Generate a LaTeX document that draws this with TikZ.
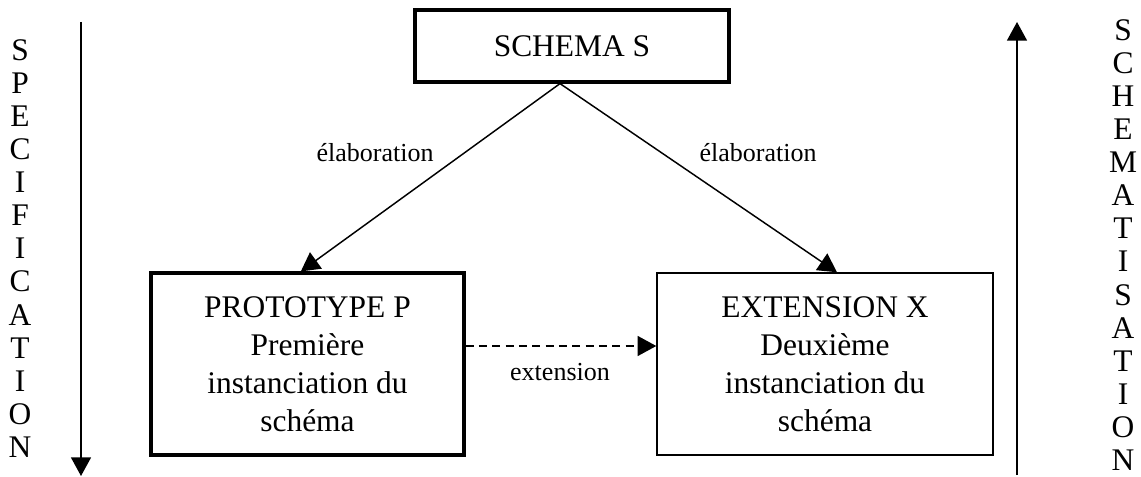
\documentclass[tikz,border=0pt]{standalone}
\usepackage{fontspec}
\setmainfont{Liberation Serif}
\usetikzlibrary{arrows.meta}

\begin{document}
\begin{tikzpicture}[x=0.75pt,y=-0.75pt,
    bloc/.style={draw,align=center,inner sep=0pt,font=\fontsize{23.6}{28.5}\selectfont},
    fleche/.style={-{Triangle[width=15pt,length=14pt]},line width=1.1pt},
    lettres/.style={align=center,inner sep=0pt,font=\fontsize{23.6}{24.8}\selectfont},
    etiq/.style={font=\fontsize{19.5}{22}\selectfont}]
                \useasboundingbox (0,0) rectangle (1141,477);
                \node[bloc,line width=2.4pt,minimum width=235.5pt,minimum height=54pt] (schema) at (572,46) {SCHEMA S};
                \node[bloc,line width=2.4pt,minimum width=234.75pt,minimum height=136.5pt] (proto) at (307.5,364) {PROTOTYPE P\\Première\\instanciation du\\schéma};
                \node[bloc,line width=1.1pt,minimum width=252pt,minimum height=136.5pt] (ext) at (825,364) {EXTENSION X\\Deuxième\\instanciation du\\schéma};
                \draw[fleche] ([xshift=-9pt]schema.south) -- ([xshift=-5pt]proto.north);
                \draw[fleche] ([xshift=-9pt]schema.south) -- ([xshift=9pt]ext.north);
                \draw[fleche,dashed,dash pattern=on 6pt off 4pt] (proto.east |- 0,346) -- (ext.west |- 0,346);
                \node[etiq] (elabG) at (375,153) {élaboration};
                \node[etiq] (elabD) at (758,153) {élaboration};
                \node[etiq] (extlab) at (560,372) {extension};
                % fleches laterales
                \node[lettres] (spec) at (20,248.5) {S\\P\\E\\C\\I\\F\\I\\C\\A\\T\\I\\O\\N};
                \node[lettres] (schem) at (1123,245) {S\\C\\H\\E\\M\\A\\T\\I\\S\\A\\T\\I\\O\\N};
                \coordinate (specHaut) at (81,22);
                \coordinate (specBas) at (81,476);
                \coordinate (schemBas) at (1017,475);
                \coordinate (schemHaut) at (1017,22);
                \draw[fleche] (specHaut) -- (specBas);
                \draw[fleche] (schemBas) -- (schemHaut);
            \end{tikzpicture}
\end{document}
